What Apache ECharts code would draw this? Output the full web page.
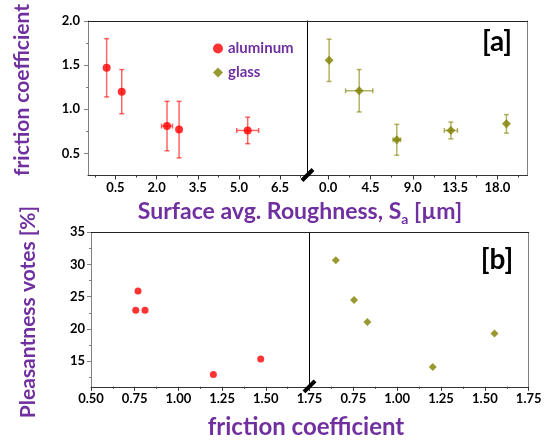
<!DOCTYPE html>
<html><head><meta charset="utf-8">
<script src="https://cdn.jsdelivr.net/npm/echarts@6/dist/echarts.min.js"></script>
<style>html,body{margin:0;padding:0;background:#fff}#c{width:547px;height:440px}</style>
</head><body><div id="c"></div>
<script>
// ---- data ----
const alRough = [0.18, 0.73, 2.38, 2.82, 5.32];
const alRoughErr = [0, 0, 0.2, 0, 0.4];
const alFric = [1.47, 1.20, 0.81, 0.77, 0.76];
const alFricErr = [0.33, 0.25, 0.28, 0.32, 0.15];
const glRough = [0.1, 3.3, 7.3, 13.05, 18.96];
const glRoughErr = [0, 1.45, 0.4, 0.7, 0];
const glFric = [1.555, 1.21, 0.655, 0.76, 0.835];
const glFricErr = [0.24, 0.24, 0.175, 0.095, 0.105];
const alFricB = [0.756, 0.769, 0.809, 1.20, 1.471];
const alVotes = [22.9, 25.9, 22.9, 12.9, 15.3];
const glFricB = [0.65, 0.754, 0.83, 1.203, 1.555];
const glVotes = [30.66, 24.5, 21.05, 14.07, 19.28];
const roughTicksL = [0.5, 2.0, 3.5, 5.0, 6.5];
const roughMinorL = [-0.25, 1.25, 2.75, 4.25, 5.75, 7.25];
const roughTicksR = [0, 4.5, 9, 13.5, 18];
const roughMinorR = [2.25, 6.75, 11.25, 15.75, 20.25];
const fricTicks = [0.5, 1.0, 1.5, 2.0];
const fricMinor = [0.75, 1.25, 1.75];
const voteTicks = [15, 20, 25, 30, 35];
const voteMinor = [12.5, 17.5, 22.5, 27.5, 32.5];
const fricTicksB = [0.5, 0.75, 1.0, 1.25, 1.5, 1.75];
const fricTicksBR = [0.75, 1.0, 1.25, 1.5, 1.75];
const fricMinorB = [0.625, 0.875, 1.125, 1.375, 1.625];

const PURPLE = '#7030A0';
const RED = '#FF0000';
const OLIVE = '#808000';
const FONT = 'Lato';
const lbl = {color: '#000', fontWeight: 'bold', fontSize: 13, fontFamily: FONT};

const grids = [
  {left: 88, top: 21, width: 219.5, height: 154.5},
  {left: 307.5, top: 21, width: 220, height: 154.5},
  {left: 91, top: 232.3, width: 218.5, height: 154.5},
  {left: 309.5, top: 232.3, width: 219.2, height: 154.5}
];
const xRanges = [[-0.5, 7.5], [-2.2, 21.2], [0.5, 1.75], [0.5, 1.75]];
const yRanges = [[0.25, 2.0], [0.25, 2.0], [11, 35], [11, 35]];
const xMajor = [roughTicksL, roughTicksR, fricTicksB, fricTicksB];
const xLabels = [roughTicksL, roughTicksR, fricTicksB, fricTicksBR];
const xMinor = [roughMinorL, roughMinorR, fricMinorB, fricMinorB];
const xDigits = [1, 1, 2, 2];

const xAxis = [], yAxis = [];
const xIdx = [], yIdx = [];
for (let g = 0; g < 4; g++) {
  const [xmin, xmax] = xRanges[g];
  const [ymin, ymax] = yRanges[g];
  xIdx[g] = xAxis.length;
  xAxis.push({type: 'value', gridIndex: g, min: xmin, max: xmax, position: 'bottom',
    axisLine: {show: true, onZero: false, lineStyle: {color: '#333', width: 1}},
    axisTick: {show: true, inside: false, length: 4, customValues: xMajor[g], lineStyle: {color: '#333'}},
    axisLabel: Object.assign({show: true, margin: 6, customValues: xLabels[g],
      formatter: v => v.toFixed(xDigits[g])}, lbl),
    splitLine: {show: false}});
  xAxis.push({type: 'value', gridIndex: g, min: xmin, max: xmax, position: 'bottom',
    axisLine: {show: false, onZero: false},
    axisTick: {show: true, length: 2, customValues: xMinor[g], lineStyle: {color: '#333'}},
    axisLabel: {show: false}, splitLine: {show: false}});
  xAxis.push({type: 'value', gridIndex: g, min: xmin, max: xmax, position: 'top',
    axisLine: {show: true, onZero: false, lineStyle: {color: '#222'}},
    axisTick: {show: false}, axisLabel: {show: false}, splitLine: {show: false}});
  const left = (g % 2 === 0);
  yIdx[g] = yAxis.length;
  if (left) {
    const maj = g < 2 ? fricTicks : voteTicks;
    const min = g < 2 ? fricMinor : voteMinor;
    yAxis.push({type: 'value', gridIndex: g, min: ymin, max: ymax, position: 'left',
      axisLine: {show: true, onZero: false, lineStyle: {color: '#808080'}},
      axisTick: {show: true, length: 4, customValues: maj, lineStyle: {color: '#808080'}},
      axisLabel: Object.assign({show: true, margin: g < 2 ? 8 : 6, customValues: maj,
        formatter: v => g < 2 ? v.toFixed(1) : String(v)}, lbl),
      splitLine: {show: false}});
    yAxis.push({type: 'value', gridIndex: g, min: ymin, max: ymax, position: 'left',
      axisLine: {show: false, onZero: false},
      axisTick: {show: true, length: 2, customValues: min, lineStyle: {color: '#808080'}},
      axisLabel: {show: false}, splitLine: {show: false}});
  } else {
    yAxis.push({type: 'value', gridIndex: g, min: ymin, max: ymax, position: 'left',
      axisLine: {show: true, onZero: false, lineStyle: {color: '#000', width: 1}},
      axisTick: {show: false}, axisLabel: {show: false}, splitLine: {show: false}});
    yAxis.push({type: 'value', gridIndex: g, min: ymin, max: ymax, position: 'right',
      axisLine: {show: true, onZero: false, lineStyle: {color: '#808080'}},
      axisTick: {show: false}, axisLabel: {show: false}, splitLine: {show: false}});
  }
}

function zip(a, b, c, d) { return a.map((v, i) => c ? [v, b[i], c[i], d[i]] : [v, b[i]]); }

function errSeries(g, data, color) {
  return {
    type: 'custom', xAxisIndex: xIdx[g], yAxisIndex: yIdx[g], data: data, z: 2, silent: true,
    renderItem: function (params, api) {
      const x = api.value(0), y = api.value(1), ex = api.value(2), ey = api.value(3);
      const style = {stroke: color, lineWidth: 1.5};
      const ch = [];
      const cap = 2.5;
      if (ey > 0) {
        const t = api.coord([x, y + ey]), b = api.coord([x, y - ey]);
        ch.push({type: 'line', shape: {x1: t[0], y1: t[1], x2: b[0], y2: b[1]}, style});
        ch.push({type: 'line', shape: {x1: t[0] - cap, y1: t[1], x2: t[0] + cap, y2: t[1]}, style});
        ch.push({type: 'line', shape: {x1: b[0] - cap, y1: b[1], x2: b[0] + cap, y2: b[1]}, style});
      }
      if (ex > 0) {
        const l = api.coord([x - ex, y]), r = api.coord([x + ex, y]);
        ch.push({type: 'line', shape: {x1: l[0], y1: l[1], x2: r[0], y2: r[1]}, style});
        ch.push({type: 'line', shape: {x1: l[0], y1: l[1] - cap, x2: l[0], y2: l[1] + cap}, style});
        ch.push({type: 'line', shape: {x1: r[0], y1: r[1] - cap, x2: r[0], y2: r[1] + cap}, style});
      }
      return {type: 'group', children: ch};
    }
  };
}

const series = [
  errSeries(0, zip(alRough, alFric, alRoughErr, alFricErr), 'rgba(255,0,0,0.6)'),
  {name: 'aluminum', type: 'scatter', xAxisIndex: xIdx[0], yAxisIndex: yIdx[0], data: zip(alRough, alFric),
    symbol: 'circle', symbolSize: 8, itemStyle: {color: RED}, z: 3},
  errSeries(1, zip(glRough, glFric, glRoughErr, glFricErr), 'rgba(128,128,0,0.6)'),
  {name: 'glass', type: 'scatter', xAxisIndex: xIdx[1], yAxisIndex: yIdx[1], data: zip(glRough, glFric),
    symbol: 'diamond', symbolSize: 9, itemStyle: {color: OLIVE}, z: 3},
  {name: 'aluminum', type: 'scatter', xAxisIndex: xIdx[2], yAxisIndex: yIdx[2], data: zip(alFricB, alVotes),
    symbol: 'circle', symbolSize: 7, itemStyle: {color: RED}, z: 3},
  {name: 'glass', type: 'scatter', xAxisIndex: xIdx[3], yAxisIndex: yIdx[3], data: zip(glFricB, glVotes),
    symbol: 'diamond', symbolSize: 8, itemStyle: {color: OLIVE}, z: 3}
];

const titleStyle = {fill: PURPLE, fontWeight: 'bold', fontFamily: FONT};
const chart = echarts.init(document.getElementById('c'), null, {renderer: 'canvas'});
chart.setOption({
  animation: false,
  backgroundColor: '#fff',
  grid: grids,
  xAxis: xAxis,
  yAxis: yAxis,
  legend: {
    orient: 'vertical', left: 208, top: 36, itemWidth: 10, itemHeight: 10, itemGap: 9,
    data: [{name: 'aluminum', icon: 'circle'}, {name: 'glass', icon: 'diamond'}],
    textStyle: {color: PURPLE, fontWeight: 'bold', fontSize: 15, fontFamily: FONT},
    selectedMode: false
  },
  series: series
});

function brk(g) {
  const p = chart.convertToPixel({xAxisIndex: xIdx[g], yAxisIndex: yIdx[g]}, [xRanges[g][1], yRanges[g][0]]);
  return {type: 'line', shape: {x1: p[0] - 5.5, y1: p[1] + 5, x2: p[0] + 5.5, y2: p[1] - 6},
    style: {stroke: '#000', lineWidth: 4}, z: 100};
}
chart.setOption({
  graphic: [
    brk(0), brk(2),
    {type: 'text', x: 22, y: 90, rotation: Math.PI / 2,
      style: Object.assign({text: 'friction coefficient', fontSize: 21, align: 'center', verticalAlign: 'middle'}, titleStyle)},
    {type: 'text', x: 28, y: 312, rotation: Math.PI / 2,
      style: Object.assign({text: 'Pleasantness votes [%]', fontSize: 21, align: 'center', verticalAlign: 'middle'}, titleStyle)},
    {type: 'text', x: 300, y: 212,
      style: {text: '{m|Surface avg. Roughness, S}{s|a}{m| [µm]}', align: 'center', verticalAlign: 'middle',
        rich: {m: Object.assign({fontSize: 23}, titleStyle, {fill: PURPLE}),
               s: Object.assign({fontSize: 14, padding: [14, 0, 0, 0]}, titleStyle, {fill: PURPLE})}}},
    {type: 'text', x: 306, y: 427,
      style: Object.assign({text: 'friction coefficient', fontSize: 24, align: 'center', verticalAlign: 'middle'}, titleStyle)},
    {type: 'text', x: 497, y: 42,
      style: {text: '[a]', fontSize: 28, fontWeight: 'bold', fontFamily: FONT, fill: '#000', align: 'center', verticalAlign: 'middle'}},
    {type: 'text', x: 497, y: 260,
      style: {text: '[b]', fontSize: 28, fontWeight: 'bold', fontFamily: FONT, fill: '#000', align: 'center', verticalAlign: 'middle'}}
  ]
});
</script></body></html>
